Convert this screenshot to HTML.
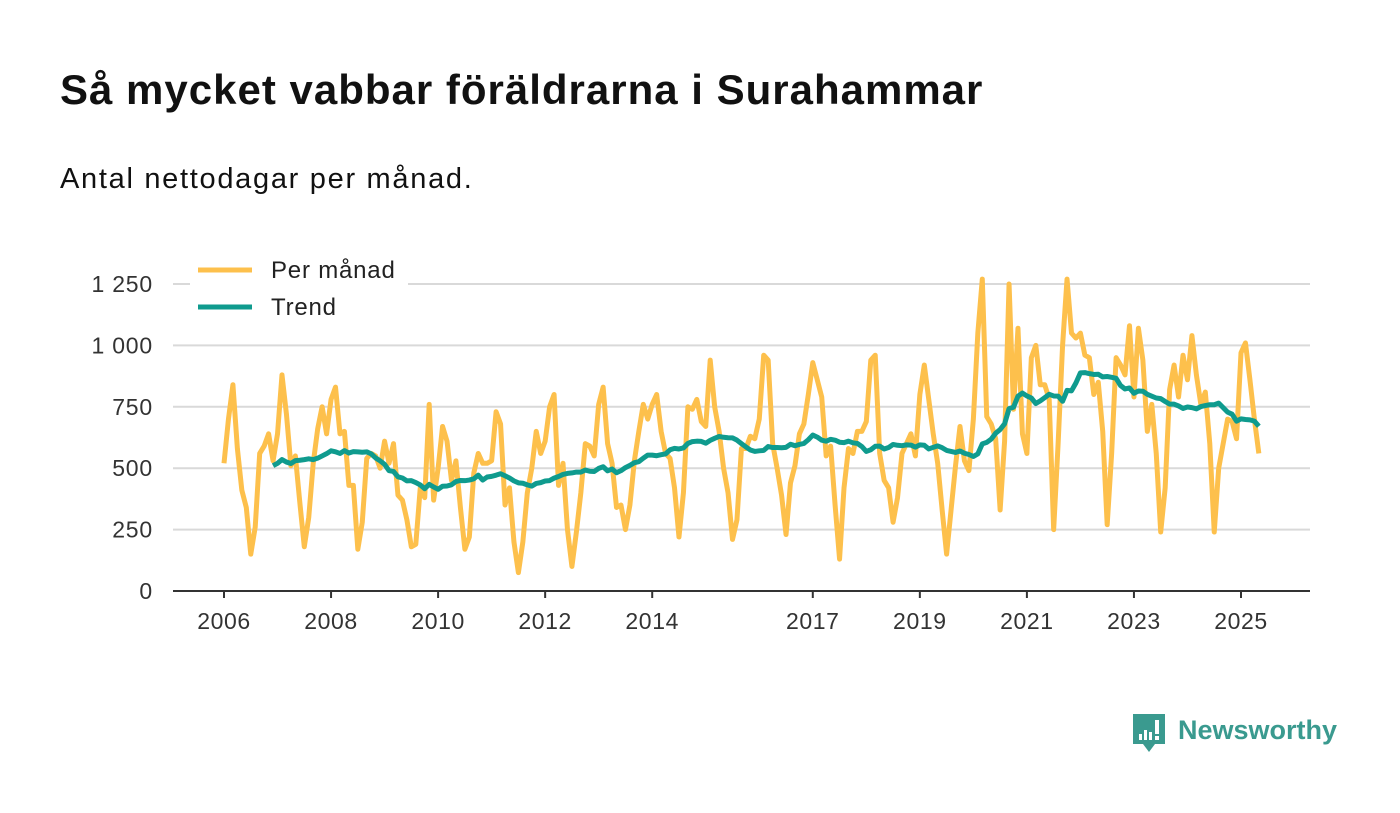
<!DOCTYPE html>
<html><head><meta charset="utf-8"><style>
body{margin:0;background:#fff;font-family:"Liberation Sans","DejaVu Sans",sans-serif;}
#wrap{position:relative;width:1400px;height:813px;overflow:hidden;}
h1{position:absolute;left:60px;top:66px;margin:0;font-size:42px;font-weight:bold;color:#111;letter-spacing:1px}
.sub{position:absolute;left:60px;top:163px;font-size:29px;color:#111;letter-spacing:1.7px}
</style></head><body>
<div id="wrap">
<h1>Så mycket vabbar föräldrarna i Surahammar</h1>
<div class="sub">Antal nettodagar per månad.</div>
<svg id="chart" width="1400" height="813" style="position:absolute;left:0;top:0"></svg>
</div>
<script>
const startYear = 2006;
const monthly = [
520,700,840,580,410,340,150,260,560,590,640,530,
640,880,720,510,550,360,180,300,520,660,750,640,
780,830,640,650,430,430,170,280,540,560,550,500,
610,520,600,390,370,290,180,190,420,380,760,370,
500,670,610,450,530,340,170,220,480,560,520,520,
530,730,680,350,420,200,75,200,400,500,650,560,
610,750,800,430,520,250,100,240,400,600,590,550,
760,830,600,520,340,350,250,350,530,650,760,700,
760,800,650,560,540,420,220,400,750,740,780,690,
670,940,750,650,500,400,210,290,580,580,630,620,
700,960,940,600,500,390,230,440,510,640,680,800,
930,860,790,550,590,350,130,420,580,560,650,650,
690,940,960,560,450,420,280,380,560,600,640,550,
800,920,780,640,520,330,150,330,510,670,530,490,
700,1050,1270,710,680,620,330,610,1250,740,1070,640,
560,950,1000,840,840,780,250,600,1000,1270,1050,1030,
1050,960,950,800,850,650,270,560,950,920,880,1080,
790,1070,940,650,760,560,240,420,820,920,790,960,
860,1040,880,760,810,600,240,500,600,700,690,620,
970,1010,860,700,560];
const yTicks = [0,250,500,750,1000,1250];
const yTickLabels = ["0","250","500","750","1 000","1 250"];
const xTickYears = [2006,2008,2010,2012,2014,2017,2019,2021,2023,2025];

const NS="http://www.w3.org/2000/svg";
const svg=document.getElementById('chart');
const x0=224, pxYear=(1241-224)/19;
function xScale(m){return x0+m*pxYear/12;}
function yScale(v){return 591-v*(307/1250);}
function mk(t,a){const e=document.createElementNS(NS,t);for(const k in a)e.setAttribute(k,a[k]);svg.appendChild(e);return e;}

yTicks.forEach((v,i)=>{
  if(v>0){const g=mk('line',{x1:173,x2:1310,y1:yScale(v),y2:yScale(v),stroke:'#d9d9d9','stroke-width':2});
  
  }
  const t=mk('text',{x:153,y:yScale(v)+8,'text-anchor':'end','font-size':23,'letter-spacing':0.8,fill:'#333','font-family':'Liberation Sans, sans-serif'});
  t.textContent=yTickLabels[i];
  
  
});
const ax=mk('line',{x1:173,x2:1310,y1:591,y2:591,stroke:'#333','stroke-width':2});


xTickYears.forEach(y=>{
  const x=xScale((y-startYear)*12);
  const tk=mk('line',{x1:x,x2:x,y1:591,y2:598,stroke:'#333','stroke-width':2});
  
  
  const t=mk('text',{x:x,y:629,'text-anchor':'middle','font-size':23,'letter-spacing':0.6,fill:'#333','font-family':'Liberation Sans, sans-serif'});
  t.textContent=y;
  
  
});
const trend=[];
for(let i=11;i<monthly.length;i++){let s=0;for(let j=i-11;j<=i;j++)s+=monthly[j];trend.push([i,s/12]);}
const p1=mk('polyline',{points:monthly.map((v,i)=>xScale(i)+','+yScale(v)).join(' '),fill:'none',stroke:'#fdc04c','stroke-width':5,'stroke-linejoin':'round'});


const p2=mk('polyline',{points:trend.map(d=>xScale(d[0])+','+yScale(d[1])).join(' '),fill:'none',stroke:'#0f9b8e','stroke-width':5,'stroke-linejoin':'round'});


// legend
const lb=mk('rect',{x:190,y:252,width:218,height:72,fill:'#fff'});


[['Per månad','#fdc04c',270],['Trend','#0f9b8e',307]].forEach(d=>{
  const l=mk('line',{x1:198,x2:252,y1:d[2],y2:d[2],stroke:d[1],'stroke-width':5});
  
  
  const t=mk('text',{x:271,y:d[2]+8,'font-size':24,'letter-spacing':0.8,fill:'#222','font-family':'Liberation Sans, sans-serif'});
  t.textContent=d[0];
  
  
});
// logo
const g=document.createElementNS(NS,'g');svg.appendChild(g);


g.innerHTML='<path d="M1133 714h32v30h-10l-6 8-6-8h-10z" fill="#3a9a8f"/><rect x="1139" y="734" width="3" height="6" fill="#fff"/><rect x="1144" y="730" width="3" height="10" fill="#fff"/><rect x="1149" y="732" width="3" height="8" fill="#fff"/><rect x="1155" y="720" width="4" height="14" fill="#fff"/><rect x="1155" y="736" width="4" height="4" fill="#fff"/><text x="1178" y="739" font-size="27" font-weight="bold" fill="#3a9a8f" font-family="Liberation Sans, sans-serif">Newsworthy</text>';
</script>
</body></html>
